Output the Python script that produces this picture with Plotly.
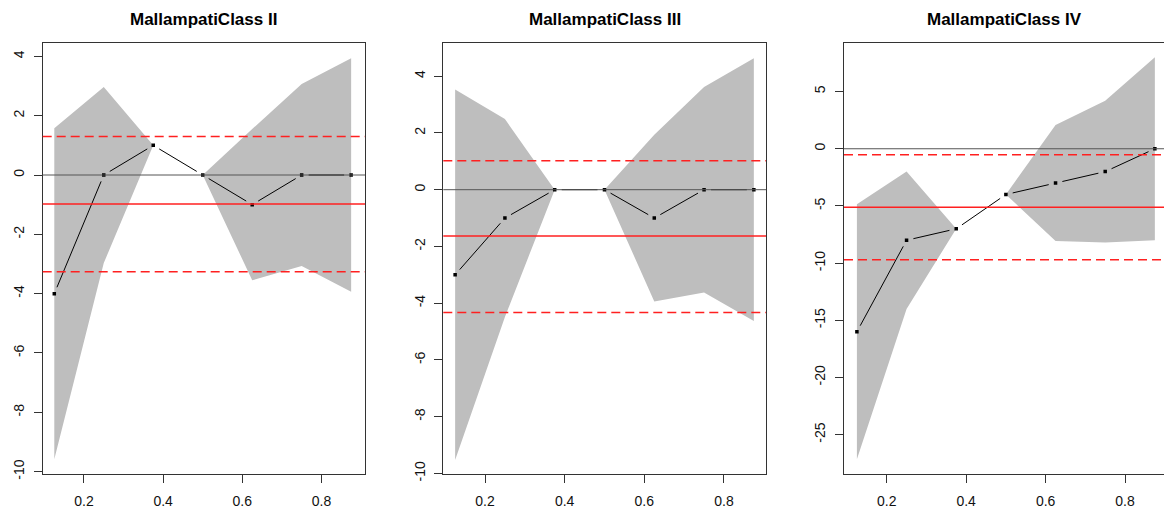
import plotly.graph_objects as go

W, H = 1164, 523

x_vals = [0.125, 0.25, 0.375, 0.5, 0.625, 0.75, 0.875]
titles = ["MallampatiClass II", "MallampatiClass III", "MallampatiClass IV"]

est_ii = [-4, 0, 1, 0, -1, 0, 0]
upper_ii = [1.58, 2.97, 1.0, 0.0, 1.55, 3.07, 3.94]
lower_ii = [-9.58, -2.97, 1.0, 0.0, -3.55, -3.07, -3.94]
ref_ii = [-0.98, 1.30, -3.26]   # solid, dashed upper, dashed lower

est_iii = [-3, -1, 0, 0, -1, 0, 0]
upper_iii = [3.53, 2.49, 0.0, 0.0, 1.94, 3.62, 4.63]
lower_iii = [-9.53, -4.49, 0.0, 0.0, -3.94, -3.62, -4.63]
ref_iii = [-1.63, 1.02, -4.33]

est_iv = [-16, -8, -7, -4, -3, -2, 0]
upper_iv = [-4.85, -2.0, -7.0, -4.0, 2.07, 4.2, 8.0]
lower_iv = [-27.15, -14.0, -7.0, -4.0, -8.07, -8.2, -8.0]
ref_iv = [-5.11, -0.52, -9.70]

x_ticks = [0.2, 0.4, 0.6, 0.8]
x_ticktext = ["0.2", "0.4", "0.6", "0.8"]
y_ticks_ab = [4, 2, 0, -2, -4, -6, -8, -10]
y_ticktext_ab = ["4", "2", "0", "-2", "-4", "-6", "-8", "-10"]
y_ticks_c = [5, 0, -5, -10, -15, -20, -25]
y_ticktext_c = ["5", "0", "-5", "-10", "-15", "-20", "-25"]

panels = [
    dict(est=est_ii, up=upper_ii, lo=lower_ii, ref=ref_ii,
         xdom=[42.7 / W, 365.0 / W], xr=[0.0957, 0.910], yr=[-10.09, 4.46],
         yt=y_ticks_ab, ytt=y_ticktext_ab, mirror=True),
    dict(est=est_iii, up=upper_iii, lo=lower_iii, ref=ref_iii,
         xdom=[443.3 / W, 766.0 / W], xr=[0.0953, 0.9055], yr=[-10.03, 5.18],
         yt=y_ticks_ab, ytt=y_ticktext_ab, mirror=True),
    dict(est=est_iv, up=upper_iv, lo=lower_iv, ref=ref_iv,
         xdom=[844.0 / W, 1.0], xr=[0.0925, 0.898], yr=[-28.46, 9.27],
         yt=y_ticks_c, ytt=y_ticktext_c, mirror=False),
]
ydom = [1 - 480.7 / H, 1 - 43.3 / H]

FONT = "Liberation Sans, Arial, sans-serif"
fig = go.Figure()


def gapped(xs, ys, xr, yr, wpx, hpx, gap=7.0):
    sx = wpx / (xr[1] - xr[0])
    sy = hpx / (yr[1] - yr[0])
    gx, gy = [], []
    for i in range(len(xs) - 1):
        dx = (xs[i + 1] - xs[i]) * sx
        dy = (ys[i + 1] - ys[i]) * sy
        d = (dx * dx + dy * dy) ** 0.5
        if d <= 2 * gap:
            continue
        f = gap / d
        gx += [xs[i] + (xs[i + 1] - xs[i]) * f, xs[i + 1] - (xs[i + 1] - xs[i]) * f, None]
        gy += [ys[i] + (ys[i + 1] - ys[i]) * f, ys[i + 1] - (ys[i + 1] - ys[i]) * f, None]
    return gx, gy


shapes = []
annotations = []
for k, p in enumerate(panels):
    n = "" if k == 0 else str(k + 1)
    xa, ya = "x" + n, "y" + n
    wpx = (p["xdom"][1] - p["xdom"][0]) * W
    hpx = (ydom[1] - ydom[0]) * H
    # confidence band
    fig.add_trace(go.Scatter(
        x=x_vals + x_vals[::-1], y=p["up"] + p["lo"][::-1],
        fill="toself", fillcolor="#BEBEBE", mode="lines",
        line=dict(width=0, color="#BEBEBE"), hoverinfo="skip",
        xaxis=xa, yaxis=ya, showlegend=False))
    # line with gaps (type = "b")
    gx, gy = gapped(x_vals, p["est"], p["xr"], p["yr"], wpx, hpx)
    fig.add_trace(go.Scatter(x=gx, y=gy, mode="lines",
                             line=dict(color="black", width=1),
                             xaxis=xa, yaxis=ya, showlegend=False))
    fig.add_trace(go.Scatter(x=x_vals, y=p["est"], mode="markers",
                             marker=dict(color="black", size=3.5, symbol="square"),
                             xaxis=xa, yaxis=ya, showlegend=False))
    xd = xa + " domain"
    shapes.append(dict(type="line", xref=xd, yref=ya, x0=0, x1=1, y0=0, y1=0,
                       line=dict(color="#555555", width=1), layer="above"))
    shapes.append(dict(type="line", xref=xd, yref=ya, x0=0, x1=1,
                       y0=p["ref"][0], y1=p["ref"][0],
                       line=dict(color="#FF2020", width=1.6), layer="above"))
    for v in p["ref"][1:]:
        shapes.append(dict(type="line", xref=xd, yref=ya, x0=0, x1=1, y0=v, y1=v,
                           line=dict(color="#FF2020", width=1.6, dash="9px,5px"),
                           layer="above"))
    annotations.append(dict(text="<b>" + titles[k] + "</b>", xref=xd, yref="paper",
                            x=0.5, y=1 - 20 / H, xanchor="center", yanchor="middle",
                            showarrow=False,
                            font=dict(family=FONT, size=17, color="black")))
    axis_common = dict(showgrid=False, zeroline=False, showline=True,
                       linecolor="#333333", linewidth=1, ticks="outside",
                       tickcolor="#333333", ticklen=8, tickwidth=1,
                       tickfont=dict(family=FONT, size=14, color="#111111"))
    fig.update_layout(**{
        "xaxis" + n: dict(domain=p["xdom"], range=p["xr"], anchor=ya,
                          tickvals=x_ticks, ticktext=x_ticktext, mirror=True,
                          ticklabelstandoff=6, **axis_common),
        "yaxis" + n: dict(domain=ydom, range=p["yr"], anchor=xa,
                          tickvals=p["yt"], ticktext=p["ytt"], mirror=p["mirror"],
                          tickangle=-90, ticklabelstandoff=4, **axis_common),
    })

fig.update_layout(width=W, height=H, margin=dict(l=0, r=0, t=0, b=0),
                  paper_bgcolor="white", plot_bgcolor="white",
                  shapes=shapes, annotations=annotations, showlegend=False)
fig.write_html("out.html", config={"displayModeBar": False})
